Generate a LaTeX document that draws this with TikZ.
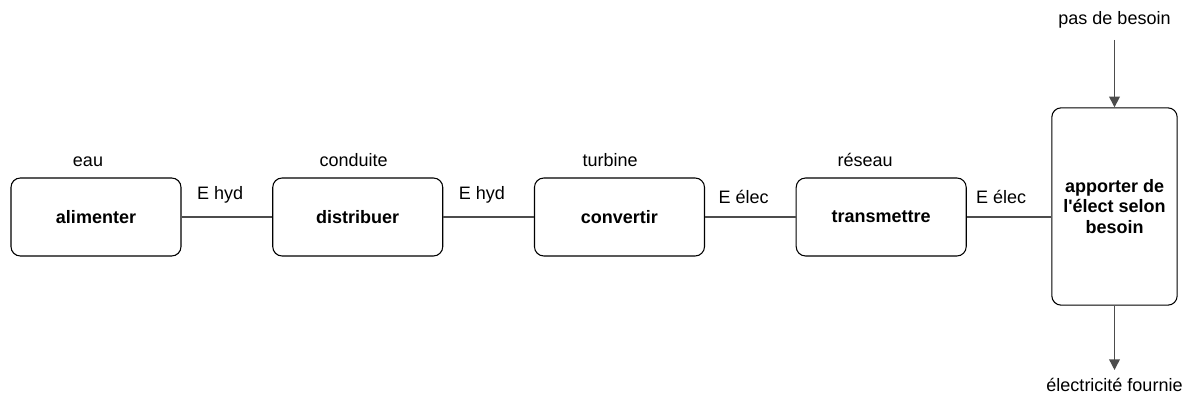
\documentclass[tikz,border=0pt]{standalone}
\usepackage{fontspec}
\setmainfont{Liberation Sans}
\usetikzlibrary{positioning,calc,arrows.meta}

\begin{document}
\begin{tikzpicture}[x=0.75pt, y=-0.75pt, node distance=68pt,
  box/.style={draw, rounded corners=7pt, align=center, font=\bfseries\fontsize{13.5}{15.5}\selectfont,
    minimum width=127.5pt, minimum height=58.5pt, line width=0.8pt},
  lbl/.style={font=\fontsize{13.5}{15.5}\selectfont, inner sep=1pt},
  link/.style={draw=black!70, line width=1.1pt}]
\useasboundingbox (0,0) rectangle (1187,398);
\node[box] (alim) at (96,217) {alimenter};
\node[box, right=of alim] (distrib) {distribuer};
\node[box, right=of distrib] (conv) {convertir};
\node[box, right=of conv] (transm) {transmettre};
\node[box, minimum width=94pt, minimum height=148pt] (apport) at (1114.5,206.5) {apporter de\\ l\textquotesingle élect selon\\ besoin};
% supports above the boxes
\node[lbl, above=7pt of alim, xshift=-6pt] {eau};
\node[lbl, above=7pt of distrib, xshift=-3pt] {conduite};
\node[lbl, above=7pt of conv, xshift=-7pt] {turbine};
\node[lbl, above=7pt of transm, xshift=-12pt] {réseau};
% flows
\draw[link] (alim) -- node[lbl, above=8.5pt, xshift=-5pt] {E hyd} (distrib);
\draw[link] (distrib) -- node[lbl, above=8.5pt, xshift=-5pt] {E hyd} (conv);
\draw[link] (conv) -- node[lbl, above=8.5pt, xshift=-5pt] {E élec} (transm);
\draw[link] (transm.east) -- node[lbl, above=8.5pt, xshift=-6pt] {E élec} (transm.east -| apport.west);
\node[lbl] (besoin) at (1114.5,20) {pas de besoin};
\node[lbl] (fournie) at (1114.5,385) {électricité fournie};
\coordinate (haut) at (1114.5,40);
\coordinate (bas) at (1114.5,370);
\draw[link, -{Triangle[length=8pt, width=8pt]}] (haut) -- (apport.north);
\draw[link, -{Triangle[length=8pt, width=8pt]}] (apport.south) -- (bas);
\end{tikzpicture}
\end{document}
